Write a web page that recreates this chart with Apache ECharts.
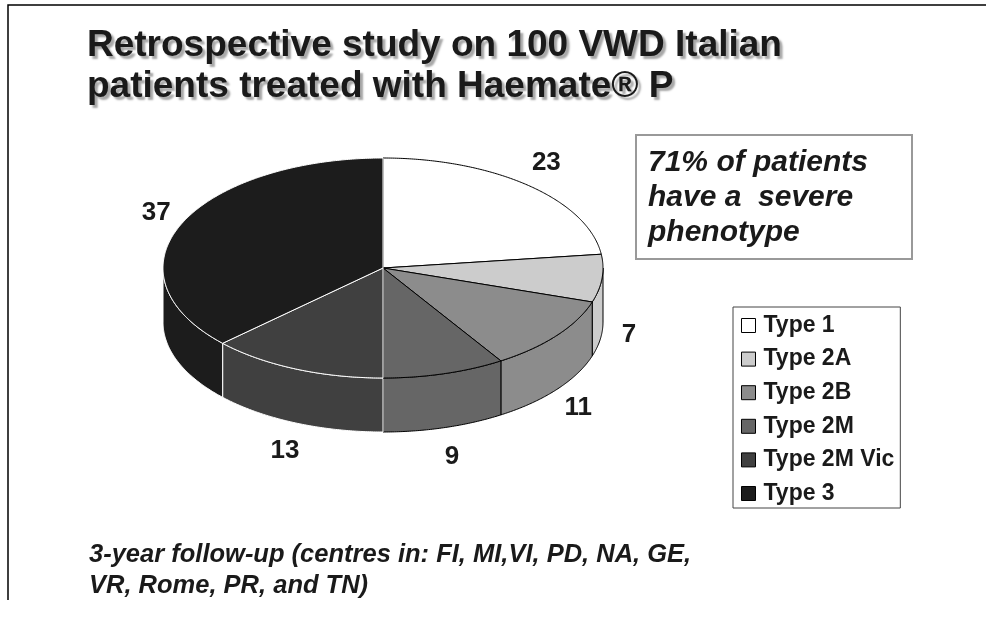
<!DOCTYPE html>
<html>
<head>
<meta charset="utf-8">
<script src="https://cdn.jsdelivr.net/npm/echarts@6/dist/echarts.min.js"></script>
<style>
  html, body { margin: 0; padding: 0; background: #fff; }
  #chart { width: 986px; height: 620px; }
</style>
</head>
<body>
<div id="chart"></div>
<script>
// data
const types = ['Type 1', 'Type 2A', 'Type 2B', 'Type 2M', 'Type 2M Vic', 'Type 3'];
const counts = [23, 7, 11, 9, 13, 37];

const sliceColors = ['#ffffff', '#cccccc', '#8c8c8c', '#666666', '#404040', '#1c1c1c'];
const edgeColors = ['#000000', '#000000', '#000000', '#000000', '#ffffff', '#ffffff'];

const total = counts.reduce((a, b) => a + b, 0);
const starts = counts.map((v, i) => counts.slice(0, i).reduce((a, b) => a + b, 0));

// pie layout (tilted disc)
const CX = 383, CY = 268, RX = 220, RY = 110, DEPTH = 54;
const FONT = '"Liberation Sans", Arial, Helvetica, sans-serif';

let chart = echarts.init(document.getElementById('chart'));

let pt = (a, dy) => [CX + RX * Math.sin(a), CY - RY * Math.cos(a) + (dy || 0)];

let arc = (a0, a1, dy) => {
    let pts = [];
    let n = Math.max(2, Math.ceil(Math.abs(a1 - a0) / (Math.PI / 360)));
    for (let k = 0; k <= n; k++) {
        pts.push(pt(a0 + (a1 - a0) * k / n, dy));
    }
    return pts;
};

let renderSlice = (params, api) => {
    let i = params.seriesIndex;
    let a0 = api.value(0) / total * Math.PI * 2;
    let a1 = (api.value(0) + api.value(1)) / total * Math.PI * 2;
    let children = [];

    // outer wall, only the front half shows
    let s0 = Math.max(a0, Math.PI / 2);
    let s1 = Math.min(a1, Math.PI * 1.5);
    if (s1 > s0) {
        children.push({
            type: 'polygon',
            z2: 1,
            shape: { points: arc(s0, s1, 0).concat(arc(s1, s0, DEPTH)) },
            style: { fill: sliceColors[i], stroke: edgeColors[i], lineWidth: 1 }
        });
    }

    children.push({
        type: 'polygon',
        z2: 2,
        shape: { points: [[CX, CY]].concat(arc(a0, a1, 0)) },
        style: { fill: sliceColors[i], stroke: edgeColors[i], lineWidth: 1 }
    });

    let mid = (a0 + a1) / 2;
    let front = Math.cos(mid) < 0;
    children.push({
        type: 'text',
        z2: 3,
        style: {
            text: String(api.value(1)),
            x: CX + (RX + 27) * Math.sin(mid),
            y: CY - (RY + 30) * Math.cos(mid) + (front ? DEPTH : 0),
            font: 'bold 26px ' + FONT,
            fill: '#1a1a1a',
            align: 'center',
            verticalAlign: 'middle'
        }
    });

    return { type: 'group', children: children };
};

let series = types.map((name, i) => ({
    name: name,
    type: 'custom',
    coordinateSystem: 'none',
    itemStyle: { color: sliceColors[i] },
    renderItem: renderSlice,
    data: [[starts[i], counts[i]]]
}));

let option = {
    backgroundColor: '#ffffff',
    animation: false,
    title: {
        text: 'Retrospective study on 100 VWD Italian\npatients treated with Haemate® P',
        left: 87,
        top: 25,
        padding: 0,
        textStyle: {
            fontFamily: FONT,
            fontSize: 37,
            fontWeight: 'bold',
            lineHeight: 41,
            color: '#1a1a1a',
            textShadowColor: 'rgba(0, 0, 0, 0.35)',
            textShadowBlur: 2,
            textShadowOffsetX: 3,
            textShadowOffsetY: 3
        }
    },
    legend: {
        orient: 'vertical',
        left: 733,
        top: 307,
        padding: [7, 6, 3, 8],
        itemWidth: 14,
        itemHeight: 14,
        itemGap: 10.6,
        icon: 'rect',
        selectedMode: false,
        borderColor: '#444',
        borderWidth: 1,
        itemStyle: { borderColor: '#000', borderWidth: 1 },
        textStyle: {
            fontFamily: FONT,
            fontSize: 23,
            fontWeight: 'bold',
            color: '#1a1a1a',
            padding: [0, 0, 0, 3]
        },
        data: types
    },
    graphic: [
        {
            type: 'polyline',
            shape: { points: [[8, 600], [8, 5], [986, 5]] },
            style: { stroke: '#000', lineWidth: 1.5, fill: null }
        },
        {
            type: 'rect',
            shape: { x: 636, y: 135, width: 276, height: 124 },
            style: { fill: '#fff', stroke: '#999', lineWidth: 2 }
        },
        {
            type: 'text',
            x: 648,
            y: 145,
            style: {
                text: '71% of patients\nhave a  severe\nphenotype',
                font: 'italic bold 30px ' + FONT,
                lineHeight: 35,
                fill: '#1a1a1a',
                verticalAlign: 'top'
            }
        },
        {
            type: 'text',
            x: 89,
            y: 539,
            style: {
                text: '3-year follow-up (centres in: FI, MI,VI, PD, NA, GE,\nVR, Rome, PR, and TN)',
                font: 'italic bold 25.5px ' + FONT,
                lineHeight: 31,
                fill: '#1a1a1a',
                verticalAlign: 'top'
            }
        }
    ],
    series: series
};

chart.setOption(option);
</script>
</body>
</html>
